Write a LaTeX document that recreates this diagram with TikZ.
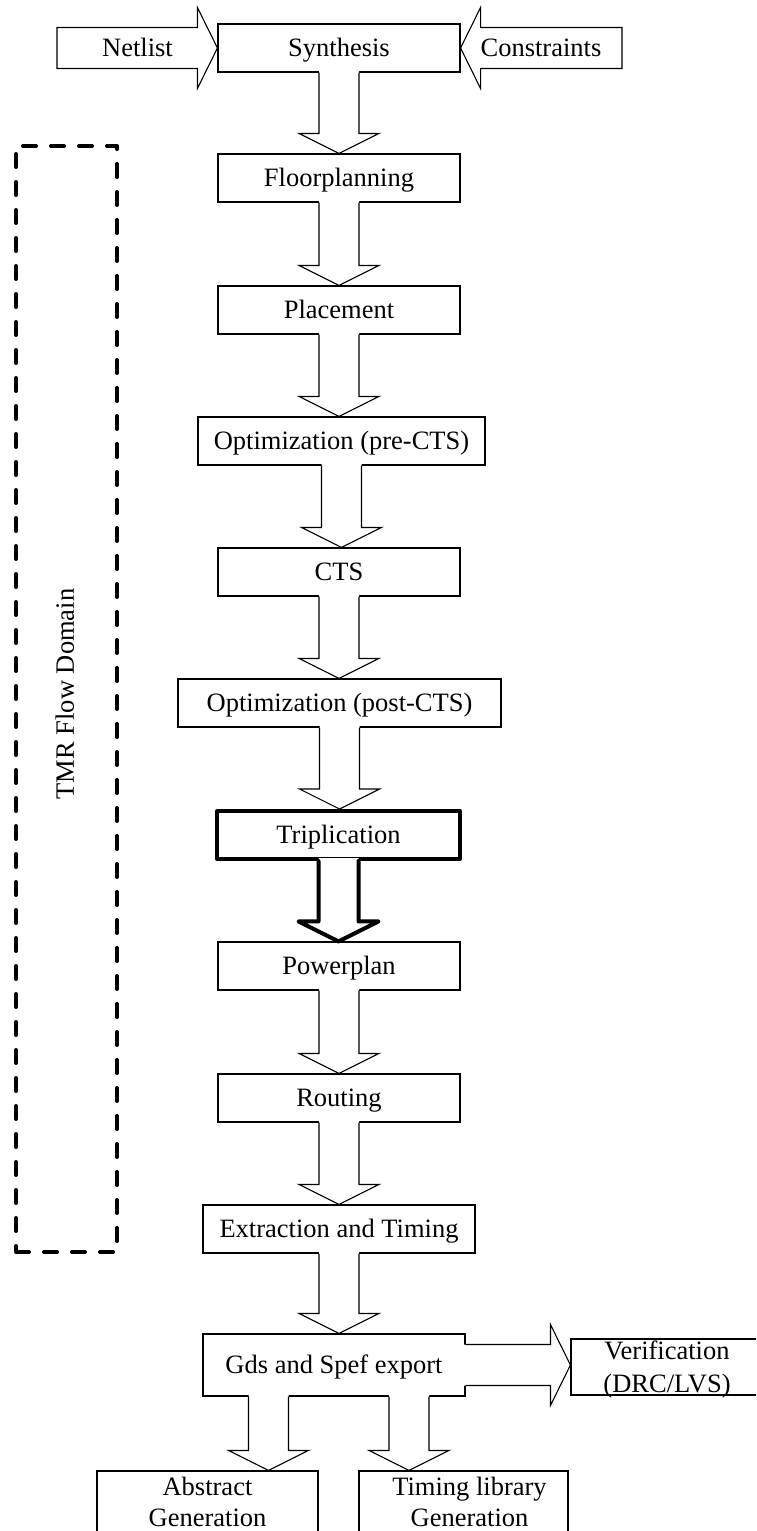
\documentclass[tikz,border=0pt]{standalone}
\usepackage{fontspec}
\setmainfont{Liberation Serif}
\usetikzlibrary{calc}

\newcommand\flowfont{\fontsize{26.5pt}{32pt}\selectfont}

\tikzset{
  box/.style={draw, line width=1.1pt, fill=white, inner sep=0pt,
    minimum height=48pt, text height=17.5pt, text depth=0pt, font=\flowfont},
  heavybox/.style={box, line width=4pt, line join=round},
  lbl/.style={inner sep=0pt, font=\flowfont},
  capline/.style={lbl, text height=17.5pt, text depth=0pt},
  thinarrow/.style={line width=1.1pt, line join=miter},
  heavyarrow/.style={line width=4pt, line join=round, line cap=round},
  domainframe/.style={draw, line width=4pt, dash pattern=on 13pt off 15pt,
    line cap=round, line join=round, inner sep=0pt},
}

% Downward block arrow from the bottom of one box to the top of another;
% the shaft is open so it merges with the source box outline.
\newcommand\vblock[4][thinarrow]{%
  \coordinate (vb-s) at ($(#2.south)+(#4,0)$);
  \coordinate (vb-t) at (vb-s |- #3.north);
  \fill[white] ($(vb-s)+(-20,-3)$) -- ($(vb-t)+(-20,-20)$) -- ($(vb-t)+(-40,-20)$)
    -- (vb-t) -- ($(vb-t)+(40,-20)$) -- ($(vb-t)+(20,-20)$) -- ($(vb-s)+(20,-3)$) -- cycle;
  \draw[#1] ($(vb-s)+(-20,0)$) -- ($(vb-t)+(-20,-20)$) -- ($(vb-t)+(-40,-20)$)
    -- (vb-t) -- ($(vb-t)+(40,-20)$) -- ($(vb-t)+(20,-20)$) -- ($(vb-s)+(20,0)$);
}

% Horizontal block arrow with a closed tail
\newcommand\hblockclosed[2]{%
  \coordinate (hb-b) at ($(#2)!20pt!(#1)$);
  \draw[thinarrow, fill=white] ($(#1)+(0,-20.5)$) -- ($(hb-b)+(0,-20.5)$)
    -- ($(hb-b)+(0,-40.5)$) -- (#2) -- ($(hb-b)+(0,40.5)$) -- ($(hb-b)+(0,20.5)$)
    -- ($(#1)+(0,20.5)$) -- cycle;
}

% Horizontal block arrow whose tail opens into a box
\newcommand\hblockopen[2]{%
  \coordinate (hb-b) at ($(#2)!20pt!(#1)$);
  \coordinate (hb-i) at ($(#1)!-3pt!(#2)$);
  \fill[white] ($(hb-i)+(0,-20.5)$) -- ($(hb-b)+(0,-20.5)$)
    -- ($(hb-b)+(0,-40.5)$) -- (#2) -- ($(hb-b)+(0,40.5)$) -- ($(hb-b)+(0,20.5)$)
    -- ($(hb-i)+(0,20.5)$) -- cycle;
  \draw[thinarrow] ($(#1)+(0,-20.5)$) -- ($(hb-b)+(0,-20.5)$)
    -- ($(hb-b)+(0,-40.5)$) -- (#2) -- ($(hb-b)+(0,40.5)$) -- ($(hb-b)+(0,20.5)$)
    -- ($(#1)+(0,20.5)$);
}

\begin{document}
\begin{tikzpicture}[x=1pt, y=-1pt]
  \useasboundingbox (0,0) rectangle (756,1531);
  \fill[white] (0,0) rectangle (756,1531);
  \clip (0,0) rectangle (756,1531);

  % TMR domain frame and its label
  \node[domainframe, minimum width=101pt, minimum height=1106pt] (domainbox) at (66.5,699) {};
  \node[capline, rotate=90] (domainlabel) at (65,694) {TMR Flow Domain};

  % flow steps
  \node[box, minimum width=242pt] (synth) at (339,48) {Synthesis};
  \node[box, minimum width=242pt] (floor) at (339,178) {Floorplanning};
  \node[box, minimum width=242pt] (place) at (339,310) {Placement};
  \node[box, minimum width=287pt] (optpre) at (341.5,441) {Optimization (pre-CTS)};
  \node[box, minimum width=242pt] (cts) at (339,572) {CTS};
  \node[box, minimum width=323pt] (optpost) at (339.5,703) {Optimization (post-CTS)};
  \node[heavybox, minimum width=243pt] (trip) at (338.5,835) {Triplication};
  \node[box, minimum width=242pt] (power) at (339,966) {Powerplan};
  \node[box, minimum width=242pt] (route) at (339,1098) {Routing};
  \node[box, minimum width=272pt] (extract) at (339,1229) {Extraction and Timing};
  \node[box, minimum width=262pt, minimum height=62pt] (gds) at (334,1365) {Gds and Spef export};
  \node[box, minimum width=192pt, minimum height=56pt] (verif) at (667,1367) {};
  \node[box, minimum width=221pt, minimum height=62pt] (abstract) at (207.5,1502) {};
  \node[box, minimum width=209pt, minimum height=62pt] (timing) at (463.5,1502) {};

  \node[lbl, anchor=base] (verif-a) at ($(verif.center)+(0,-8)$) {Verification};
  \node[lbl, anchor=base] (verif-b) at ($(verif.center)+(0,25)$) {(DRC/LVS)};
  \node[lbl, anchor=base] (abstract-a) at ($(abstract.center)+(0,-7)$) {Abstract};
  \node[lbl, anchor=base] (abstract-b) at ($(abstract.center)+(0,24)$) {Generation};
  \node[lbl, anchor=base] (timing-a) at ($(timing.center)+(6,-7)$) {Timing library};
  \node[lbl, anchor=base] (timing-b) at ($(timing.center)+(6,24)$) {Generation};

  % inputs
  \coordinate (netlist-tail) at (57,48);
  \coordinate (constraints-tail) at (622,48);
  \hblockclosed{netlist-tail}{synth.west}
  \hblockclosed{constraints-tail}{synth.east}
  \node[capline] (netlist) at (137.5,48) {Netlist};
  \node[capline] (constraints) at (541,48) {Constraints};

  % flow arrows
  \vblock{synth}{floor}{0}
  \vblock{floor}{place}{0}
  \vblock{place}{optpre}{0}
  \vblock{optpre}{cts}{0}
  \vblock{cts}{optpost}{0}
  \vblock{optpost}{trip}{0}
  \vblock[heavyarrow]{trip}{power}{0}
  \vblock{power}{route}{0}
  \vblock{route}{extract}{0}
  \vblock{extract}{gds}{0}
  \vblock{gds}{abstract}{-65.5}
  \vblock{gds}{timing}{75}

  \coordinate (verif-tip) at (gds.east -| verif.west);
  \hblockopen{gds.east}{verif-tip}
\end{tikzpicture}
\end{document}
